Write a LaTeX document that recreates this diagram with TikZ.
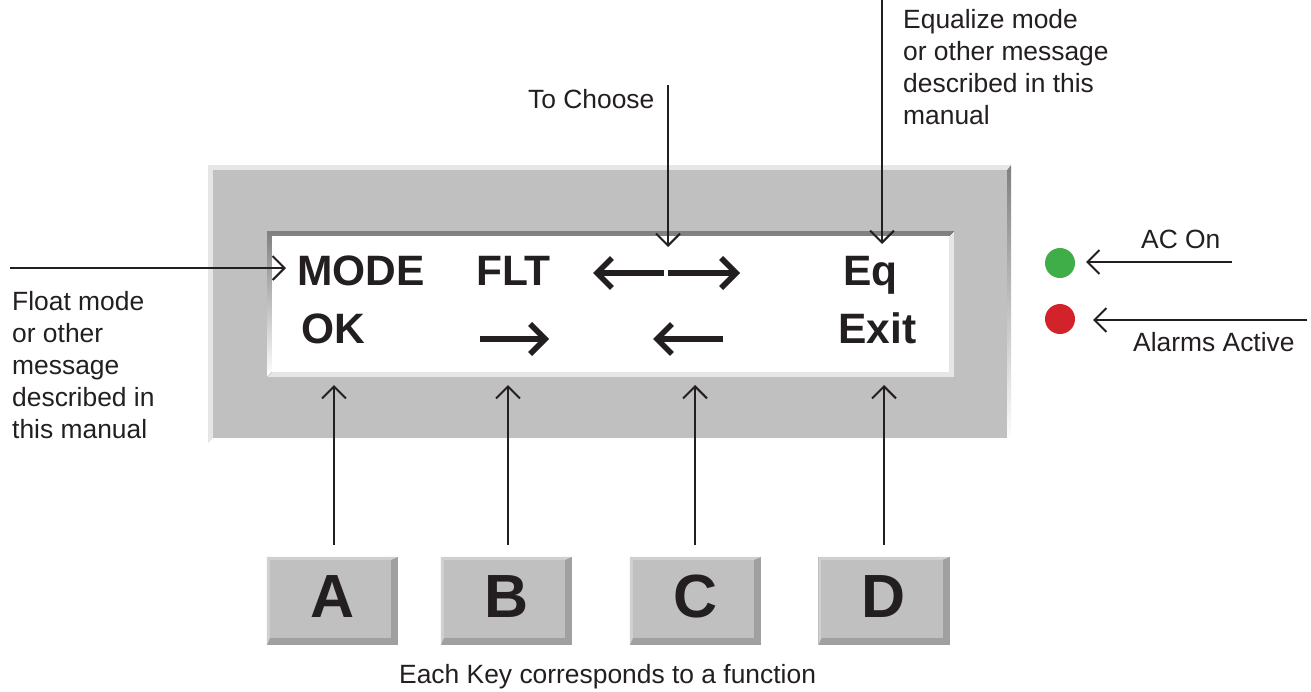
\documentclass[tikz,border=0pt]{standalone}
\usepackage{fontspec}
\setmainfont{Liberation Sans}
\usetikzlibrary{arrows.meta}
\pgfdeclarelayer{bg}
\pgfsetlayers{bg,main}
\definecolor{panel}{HTML}{C0C0C0}
\definecolor{hilite}{HTML}{E6E6E6}
\definecolor{shade}{HTML}{999999}
\definecolor{keylight}{HTML}{D0D0D0}
\definecolor{keydark}{HTML}{A0A0A0}
\definecolor{ledgreen}{HTML}{3FAE49}
\definecolor{ledred}{HTML}{D2232A}
\definecolor{ink}{HTML}{231F20}
\newcommand\keybevel[1]{%
  \fill[keydark] (#1.north west) rectangle (#1.south east);
  \fill[keylight] (#1.north west) -- (#1.north east) -- ([shift={(-7,3)}]#1.north east)
     -- ([shift={(3,3)}]#1.north west) -- ([shift={(3,-7)}]#1.south west) -- (#1.south west) -- cycle;
  \fill[panel] ([shift={(3,3)}]#1.north west) rectangle ([shift={(-7,-7)}]#1.south east);
}
\begin{document}
\begin{tikzpicture}[x=1pt,y=-1pt,
  txt/.style={inner sep=0pt, text=ink, font=\fontsize{26.4}{32}\selectfont},
  disp/.style={inner sep=0pt, text=ink, anchor=base west, font=\bfseries\fontsize{42.5}{42.5}\selectfont},
  keybox/.style={inner sep=0pt, minimum width=131pt, minimum height=88pt, text=ink,
     font=\bfseries\fontsize{61}{61}\selectfont, text height=44pt, text depth=11pt},
  callout/.style={draw=ink, line width=2pt, -{Straight Barb[length=12pt,width=24pt]}},
  bigarrow/.style={draw=ink, line width=5.5pt, -{Straight Barb[length=15pt,width=30pt]}},
  led/.style={circle, inner sep=0pt, minimum size=30pt}
]
\useasboundingbox (0,0) rectangle (1311,691);
% panel frame
\fill[shade] (208,165) rectangle (1011,443);
\fill[hilite] (208,165) -- (1011,165) -- (1007,170) -- (213,170) -- (213,438) -- (208,443) -- cycle;
\fill[panel] (213,170) rectangle (1007,438);
% display window
\fill[hilite] (267,231) rectangle (954,377);
\fill[shade] (267,231) -- (954,231) -- (949,236) -- (272,236) -- (272,372) -- (267,377) -- cycle;
\fill[white] (272,236) rectangle (949,372);
% display texts
\node[disp] (mode) at (297,285) {MODE};
\node[disp] (flt) at (476,285) {FLT};
\node[disp] (eq) at (843,285) {Eq};
\node[disp] (ok) at (301,343) {OK};
\node[disp] (exit) at (838,343) {Exit};
% display arrows
\coordinate (l1s) at (664,273); \coordinate (l1e) at (593,273);
\coordinate (r1s) at (668,273); \coordinate (r1e) at (740,273);
\coordinate (r2s) at (480,339); \coordinate (r2e) at (549,339);
\coordinate (l2s) at (723,339); \coordinate (l2e) at (653,339);
\draw[bigarrow] (l1s) -- (l1e);
\draw[bigarrow] (r1s) -- (r1e);
\draw[bigarrow] (r2s) -- (r2e);
\draw[bigarrow] (l2s) -- (l2e);
% keys
\node[keybox] (kA) at (332.5,601) {A};
\node[keybox] (kB) at (506.5,601) {B};
\node[keybox] (kC) at (695.5,601) {C};
\node[keybox] (kD) at (884,601) {D};
\begin{pgfonlayer}{bg}
\keybevel{kA}\keybevel{kB}\keybevel{kC}\keybevel{kD}
\end{pgfonlayer}
\coordinate (tA) at (334,385);
\coordinate (tB) at (508,385);
\coordinate (tC) at (695,385);
\coordinate (tD) at (884,385);
\draw[callout] (kA.north -| tA) ++(0,-12) -- (tA);
\draw[callout] (kB.north -| tB) ++(0,-12) -- (tB);
\draw[callout] (kC.north -| tC) ++(0,-12) -- (tC);
\draw[callout] (kD.north -| tD) ++(0,-12) -- (tD);
% labels
\node[txt, anchor=base west] (each) at (399,683) {Each Key corresponds to a function};
\node[txt, anchor=base west] (choose) at (528,108.5) {To Choose};
\coordinate (chooseTop) at (668,85);
\coordinate (chooseTip) at (668,247);
\draw[callout] (chooseTop) -- (chooseTip);
\node[txt, anchor=north west, align=left] (equal) at (903,9) {Equalize mode\\or other message\\described in this\\manual};
\coordinate (eqTop) at (882,0);
\coordinate (eqTip) at (882,244);
\draw[callout] (eqTop) -- (eqTip);
\node[txt, anchor=north west, align=left] (float) at (12,291) {Float mode\\or other\\message\\described in\\this manual};
\coordinate (floatStart) at (10,268);
\coordinate (floatTip) at (286,268);
\draw[callout] (floatStart) -- (floatTip);
% LEDs
\node[led, fill=ledgreen] (ledG) at (1060,263) {};
\node[led, fill=ledred] (ledR) at (1060,319) {};
\node[txt, anchor=base west] (acon) at (1141,248.5) {AC On};
\node[txt, anchor=base west] (alarm) at (1133,351.5) {Alarms Active};
\coordinate (acStart) at (1232,262);
\coordinate (acTip) at (1086,262);
\draw[callout] (acStart) -- (acTip);
\coordinate (alStart) at (1307,320);
\coordinate (alTip) at (1093,320);
\draw[callout] (alStart) -- (alTip);
\end{tikzpicture}
\end{document}
